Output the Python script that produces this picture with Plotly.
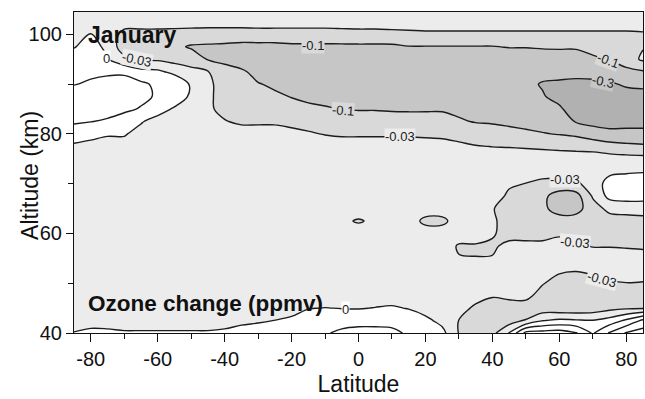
import numpy as np
import plotly.graph_objects as go

# Grid
latitudes = [-85, -80, -75, -70, -65, -60, -55, -50, -45, -40, -35, -30, -25, -20, -15, -10, -5,
             0, 5, 10, 15, 20, 25, 30, 35, 40, 45, 50, 55, 60, 65, 70, 75, 80, 85]
altitudes_top_down = [105, 102.5, 100, 97.5, 95, 92.5, 90, 87.5, 85, 82.5, 80, 77.5, 75,
                      72.5, 70, 67.5, 65, 62.5, 60, 57.5, 55, 52.5, 50, 47.5, 45, 42.5, 40]

B = -0.015  # background value (between -0.03 and 0 ppmv)

# Ozone change (ppmv), one altitude profile per latitude, from 105 km down to 40 km
ozone_change = {
    -85: [-0.015, -0.015, -0.009, -0.0015, 0.012, 0.021, 0.0291, 0.0545, 0.058, 0.037, 0.018, -0.006, -0.015,
          B, B, B, B, B, B, B, B, B, B, B, B, B, 0.0015],
    -80: [-0.015, -0.012, 0.0006, 0.0105, 0.018, 0.0255, 0.037, 0.058, 0.051, 0.0314, 0.009, -0.009, -0.015,
          B, B, B, B, B, B, B, B, B, B, B, B, B, 0.009],
    -75: [-0.015, -0.015, -0.012, -0.006, 0.0015, 0.024, 0.058, 0.065, 0.051, 0.027, 0.003, -0.012, -0.015,
          B, B, B, B, B, B, B, B, B, B, B, B, B, 0.0075],
    -70: [-0.015, -0.018, -0.051, -0.072, -0.021, 0.0225, 0.072, 0.079, 0.0475, 0.012, 0.003, -0.012, -0.015,
          B, B, B, B, B, B, B, B, B, B, B, B, B, 0.0036],
    -65: [-0.015, -0.018, -0.051, -0.072, -0.037, 0.009, 0.044, 0.051, 0.027, 0.003, -0.012, -0.015, -0.015,
          B, B, B, B, B, B, B, B, B, B, B, B, B, 0.0036],
    -60: [-0.015, -0.018, -0.051, -0.072, -0.0405, 0.006, 0.024, 0.0255, 0.015, -0.0135, -0.015, -0.015, -0.015,
          B, B, B, B, B, B, B, B, B, B, B, B, B, 0.0036],
    -55: [-0.015, -0.018, -0.0545, -0.086, -0.0545, -0.009, 0.027, 0.021, -0.0045, -0.015, -0.015, -0.015, -0.015,
          B, B, B, B, B, B, B, B, B, B, B, B, B, 0.0036],
    -50: [-0.015, -0.018, -0.058, -0.12, -0.065, -0.021, -0.0045, -0.006, -0.0135, -0.015, -0.015, -0.015, -0.015,
          B, B, B, B, B, B, B, B, B, B, B, B, B, 0.0036],
    -45: [-0.015, -0.018, -0.0615, -0.13, -0.11, -0.0285, -0.024, -0.0255, -0.0255, -0.021, -0.0165, -0.015, -0.015,
          B, B, B, B, B, B, B, B, B, B, B, B, B, 0.0036],
    -40: [-0.015, -0.018, -0.0615, -0.14, -0.14, -0.079, -0.058, -0.051, -0.0475, -0.0285, -0.018, -0.015, -0.015,
          B, B, B, B, B, B, B, B, B, B, B, B, B, 0.0075],
    -35: [-0.015, -0.018, -0.0615, -0.16, -0.2, -0.0895, -0.065, -0.058, -0.0545, -0.0405, -0.018, -0.015, -0.015,
          B, B, B, B, B, B, B, B, B, B, B, B, B, 0.0255],
    -30: [-0.015, -0.018, -0.058, -0.16, -0.2, -0.16, -0.0965, -0.072, -0.0615, -0.0405, -0.018, -0.015, -0.015,
          B, B, B, B, B, B, B, B, B, B, B, B, -0.0045, 0.018],
    -25: [-0.015, -0.018, -0.058, -0.16, -0.2, -0.18, -0.13, -0.0895, -0.065, -0.0405, -0.018, -0.015, -0.015,
          B, B, B, B, B, B, B, B, B, B, B, B, 0.0006, 0.018],
    -20: [-0.015, -0.018, -0.058, -0.14, -0.2, -0.2, -0.16, -0.106, -0.079, -0.0475, -0.0225, -0.015, -0.015,
          B, B, B, B, B, B, B, B, B, B, B, -0.012, 0.006, 0.021],
    -15: [-0.015, -0.018, -0.058, -0.14, -0.2, -0.2, -0.18, -0.14, -0.086, -0.0545, -0.027, -0.015, -0.015,
          B, B, B, B, B, B, B, B, B, B, B, -0.0015, 0.018, 0.024],
    -10: [-0.015, -0.018, -0.058, -0.14, -0.21, -0.21, -0.19, -0.16, -0.093, -0.065, -0.0335, -0.0135, -0.015,
          B, B, B, B, B, B, B, B, B, B, -0.0135, 0.0006, 0.018, 0.027],
    -5: [-0.015, -0.018, -0.0545, -0.14, -0.22, -0.22, -0.2, -0.17, -0.104, -0.072, -0.0405, -0.015, -0.015,
         B, B, B, B, -0.024, B, B, B, B, B, B, -0.0009, 0.018, 0.044],
    0: [-0.015, -0.018, -0.051, -0.14, -0.22, -0.22, -0.2, -0.17, -0.11, -0.072, -0.0405, -0.015, -0.015,
        B, B, B, B, -0.037, B, B, B, B, B, B, -0.0015, 0.021, 0.051],
    5: [-0.015, -0.018, -0.051, -0.14, -0.22, -0.22, -0.2, -0.17, -0.11, -0.072, -0.0405, -0.015, -0.015,
        B, B, B, B, -0.024, B, B, B, B, B, -0.0135, 0.0009, 0.021, 0.051],
    10: [-0.015, -0.018, -0.0475, -0.14, -0.22, -0.22, -0.2, -0.17, -0.12, -0.072, -0.0405, -0.015, -0.015,
         B, B, B, B, B, B, B, B, B, B, -0.012, 0.003, 0.0195, 0.0475],
    15: [-0.015, -0.018, -0.044, -0.11, -0.22, -0.22, -0.2, -0.17, -0.12, -0.0755, -0.0405, -0.0165, -0.015,
         B, B, B, B, B, B, B, B, B, B, B, -0.0015, 0.018, 0.0255],
    20: [-0.015, -0.018, -0.0405, -0.11, -0.22, -0.22, -0.2, -0.17, -0.12, -0.0755, -0.044, -0.0165, -0.015,
         B, B, B, B, -0.0475, B, B, B, B, B, B, -0.012, 0.0075, 0.021],
    25: [-0.015, -0.018, -0.0405, -0.11, -0.22, -0.22, -0.2, -0.17, -0.12, -0.0755, -0.0475, -0.018, -0.015,
         B, B, B, B, -0.0475, B, B, B, B, B, B, -0.015, -0.009, 0.009],
    30: [-0.015, -0.018, -0.0405, -0.11, -0.22, -0.22, -0.2, -0.17, -0.14, -0.093, -0.0545, -0.024, -0.015,
         B, B, B, B, B, B, -0.037, -0.0285, B, B, B, -0.018, -0.0314, -0.0335],
    35: [-0.015, -0.018, -0.0405, -0.11, -0.22, -0.22, -0.2, -0.17, -0.14, -0.11, -0.065, -0.0285, -0.015,
         B, B, B, B, B, B, -0.037, -0.0294, B, B, -0.018, -0.044, -0.058, -0.065],
    40: [-0.015, -0.018, -0.0405, -0.11, -0.22, -0.22, -0.21, -0.18, -0.16, -0.12, -0.072, -0.0314, -0.015,
         B, B, B, -0.0285, -0.0255, -0.027, -0.0405, -0.0285, B, B, -0.0285, -0.051, -0.058, -0.051],
    45: [-0.015, -0.018, -0.0405, -0.0965, -0.22, -0.23, -0.22, -0.19, -0.17, -0.14, -0.079, -0.0335, -0.015,
         B, -0.0255, -0.044, -0.0545, -0.058, -0.0545, -0.0225, -0.018, B, B, -0.0255, -0.051, -0.065, 0.0015],
    50: [-0.015, -0.018, -0.0405, -0.0965, -0.22, -0.25, -0.27, -0.27, -0.22, -0.15, -0.0895, -0.037, -0.015,
         -0.018, -0.0314, -0.0615, -0.0685, -0.0685, -0.0545, -0.0225, -0.0165, B, -0.0165, -0.024, -0.0545, -0.0285, 0.16],
    55: [-0.015, -0.018, -0.0405, -0.093, -0.2, -0.26, -0.335, -0.29, -0.24, -0.17, -0.0965, -0.0405, -0.0165,
         -0.018, -0.0475, -0.0825, -0.0825, -0.072, -0.0545, -0.0225, -0.0165, -0.018, -0.0285, -0.051, -0.072, -0.0015, 0.18],
    60: [-0.015, -0.018, -0.0405, -0.093, -0.18, -0.26, -0.37, -0.44, -0.28, -0.2, -0.11, -0.044, -0.018,
         -0.018, -0.051, -0.2, -0.2, -0.065, -0.0405, -0.018, -0.0165, -0.027, -0.051, -0.072, -0.079, 0.006, 0.2],
    65: [-0.015, -0.018, -0.0405, -0.093, -0.18, -0.25, -0.44, -0.58, -0.545, -0.349, -0.136, -0.0531, -0.015,
         -0.018, -0.044, -0.18, -0.18, -0.065, -0.0475, -0.0255, -0.0165, -0.0294, -0.0545, -0.072, -0.079, 0.003, 0.12],
    70: [-0.015, -0.018, -0.0405, -0.072, -0.14, -0.24, -0.44, -0.615, -0.615, -0.51, -0.2, -0.058, -0.015,
         -0.012, -0.015, -0.027, -0.058, -0.065, -0.058, -0.0335, -0.0165, -0.0255, -0.051, -0.065, -0.072, 0.0015, 0.027],
    75: [-0.015, -0.018, -0.0405, -0.065, -0.0965, -0.22, -0.37, -0.58, -0.615, -0.545, -0.25, -0.072, -0.018,
         -0.006, 0.0105, 0.009, -0.0225, -0.058, -0.0545, -0.0335, -0.018, -0.021, -0.037, -0.065, -0.051, 0.012, 0.12],
    80: [-0.015, -0.018, -0.0405, -0.044, -0.0615, -0.16, -0.28, -0.51, -0.58, -0.51, -0.25, -0.0825, -0.0195,
         -0.003, 0.012, 0.0135, -0.0195, -0.0545, -0.058, -0.0356, -0.0195, -0.018, -0.0314, -0.065, -0.0405, 0.044, 0.37],
    85: [-0.015, -0.018, -0.037, -0.0335, -0.0255, -0.12, -0.27, -0.475, -0.58, -0.51, -0.25, -0.0895, -0.021,
         -0.0015, 0.012, 0.012, -0.018, -0.051, -0.0545, -0.037, -0.0225, -0.0195, -0.0335, -0.065, -0.037, 0.14, 0.65],
}

# Contour levels of the figure (ppmv) and their rank (for equally spaced plotly levels)
level_ppmv = [-1.0, -0.3, -0.1, -0.03, 0.0, 0.03, 0.1, 0.3, 1.0]
level_rank = [-4, -3, -2, -1, 0, 1, 2, 3, 4]

x_ticks = [-80, -60, -40, -20, 0, 20, 40, 60, 80]
x_tick_text = ["-80", "-60", "-40", "-20", "0", "20", "40", "60", "80"]
y_ticks = [40, 60, 80, 100]

# contour labels: text, latitude, altitude, angle
contour_labels = [
    ("0", -75.3, 95.1, 0),
    ("-0.03", -66.3, 95.0, 12),
    ("-0.1", -13.6, 97.8, 0),
    ("-0.1", -4.6, 84.8, 4),
    ("-0.03", 12.5, 79.4, 0),
    ("-0.1", 74.6, 94.8, 20),
    ("-0.3", 73.0, 90.6, 12),
    ("-0.03", 61.7, 70.9, 0),
    ("-0.03", 64.7, 58.2, 5),
    ("-0.03", 72.8, 50.8, 15),
    ("0", -4.0, 44.8, 0),
]

for lat in latitudes:
    assert len(ozone_change[lat]) == len(altitudes_top_down), lat

z_ppmv = np.array([ozone_change[lat] for lat in latitudes], dtype=float).T
z_rank = np.interp(z_ppmv, level_ppmv, level_rank)
alt = np.array(altitudes_top_down, dtype=float)[::-1]
z_rank = z_rank[::-1]

DARK = "#b1b1b1"
MED = "#c6c6c6"
GRAY = "#d9d9d9"
BG = "#ececec"
WHITE = "#ffffff"
band_color = {-3: MED, -2: GRAY, -1: BG, 0: WHITE}

# bands: < -3, [-3,-2], [-2,-1], [-1,0], > 0  -> colorscale over [-3.5, 3.5]
e = 1.0 / 7
colorscale = [
    [0.0, DARK], [0.5 * e, DARK],
    [0.5 * e, MED], [1.5 * e, MED],
    [1.5 * e, GRAY], [2.5 * e, GRAY],
    [2.5 * e, BG], [3.5 * e, BG],
    [3.5 * e, WHITE], [1.0, WHITE],
]

FONT = "Liberation Sans, Arial, Helvetica, sans-serif"
INK = "#111111"

fig = go.Figure()
fig.add_trace(go.Contour(
    x=latitudes, y=alt, z=z_rank,
    contours=dict(start=-3, end=3, size=1, coloring="fill", showlabels=False),
    colorscale=colorscale, showscale=False,
    line=dict(color="#1c1c1c", width=1.4, smoothing=1.0),
    hoverinfo="skip",
))

annotations = []
for text, lat, a, ang in contour_labels:
    lvl = level_rank[level_ppmv.index(float(text))]
    bg = band_color.get(lvl, BG) if lvl < 0 else WHITE
    annotations.append(dict(
        x=lat, y=a, xref="x", yref="y", text=text, showarrow=False,
        textangle=ang, font=dict(family=FONT, size=13, color="#1c1c1c"),
        bgcolor=bg, borderpad=0, xanchor="center", yanchor="middle",
    ))

annotations.append(dict(
    x=-81.3, y=99.8, xref="x", yref="y", text="<b>January</b>", showarrow=False,
    xanchor="left", yanchor="middle", font=dict(family=FONT, size=23, color=INK),
))
annotations.append(dict(
    x=-81.3, y=45.9, xref="x", yref="y", text="<b>Ozone change (ppmv)</b>", showarrow=False,
    xanchor="left", yanchor="middle", font=dict(family=FONT, size=22.5, color=INK),
))
# y-axis title
annotations.append(dict(
    x=-0.077, y=0.49, xref="paper", yref="paper", text="Altitude (km)", showarrow=False,
    textangle=-90, xanchor="center", yanchor="middle", font=dict(family=FONT, size=23, color=INK),
))

axis_common = dict(
    showline=True, linecolor=INK, linewidth=1.2, mirror=True,
    ticks="outside", tickcolor=INK, tickwidth=1.2,
    showgrid=False, zeroline=False,
    tickfont=dict(family=FONT, size=20, color=INK),
)

fig.update_layout(
    width=645, height=399,
    margin=dict(l=74, r=2, t=12, b=66),
    paper_bgcolor="white", plot_bgcolor="white",
    showlegend=False,
    annotations=annotations,
    xaxis=dict(
        range=[-85, 85], tickvals=x_ticks, ticktext=x_tick_text, ticklen=8,
        minor=dict(tickvals=[-70, -50, -30, -10, 10, 30, 50, 70], ticklen=5, ticks="outside",
                   tickcolor=INK, tickwidth=1.2),
        title=dict(text="Latitude", font=dict(family=FONT, size=23, color=INK), standoff=6),
        **axis_common,
    ),
    yaxis=dict(
        range=[40, 104.5], tickvals=y_ticks, ticklen=7,
        minor=dict(tickvals=[50, 70, 90], ticklen=5, ticks="outside",
                   tickcolor=INK, tickwidth=1.2),
        **axis_common,
    ),
)

fig.write_html("out.html")
